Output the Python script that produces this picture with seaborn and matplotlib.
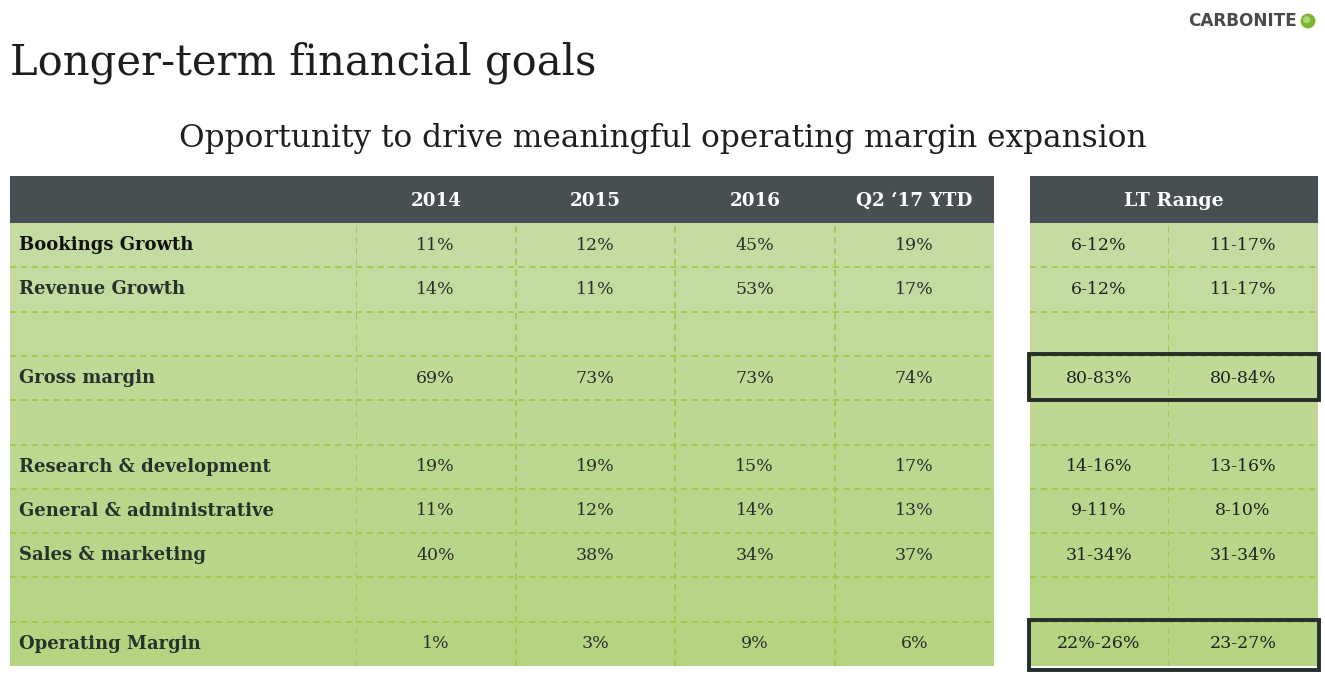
import numpy as np
import pandas as pd
import matplotlib
matplotlib.use("Agg")
import matplotlib.pyplot as plt
import seaborn as sns
from matplotlib.colors import LinearSegmentedColormap
from matplotlib.patches import Rectangle, Circle

# ---------------- data ----------------
row_labels = ["Bookings Growth", "Revenue Growth", "", "Gross margin", "",
              "Research & development", "General & administrative",
              "Sales & marketing", "", "Operating Margin"]
periods = ["2014", "2015", "2016", "Q2 \u201817 YTD"]
v2014 = ["11%", "14%", "", "69%", "", "19%", "11%", "40%", "", "1%"]
v2015 = ["12%", "11%", "", "73%", "", "19%", "12%", "38%", "", "3%"]
v2016 = ["45%", "53%", "", "73%", "", "15%", "14%", "34%", "", "9%"]
vq217 = ["19%", "17%", "", "74%", "", "17%", "13%", "37%", "", "6%"]
lt_header = "LT Range"
lt_low = ["6-12%", "6-12%", "", "80-83%", "", "14-16%", "9-11%", "31-34%", "", "22%-26%"]
lt_high = ["11-17%", "11-17%", "", "80-84%", "", "13-16%", "8-10%", "31-34%", "", "23-27%"]
boxed_rows = ["Gross margin", "Operating Margin"]

title = "Longer-term financial goals"
subtitle = "Opportunity to drive meaningful operating margin expansion"
logo = "CARBONITE"

# ---------------- style ----------------
sns.set_theme(style="white")
plt.rcParams["font.family"] = ["DejaVu Serif"]

W, H = 1325, 678
fig = plt.figure(figsize=(W / 100, H / 100), dpi=100)
fig.patch.set_facecolor("white")

def fax(x0, y0, x1, y1):
    """axes from pixel box (top-left origin)"""
    return fig.add_axes([x0 / W, 1 - y1 / H, (x1 - x0) / W, (y1 - y0) / H])

cmap = LinearSegmentedColormap.from_list("g", ["#c4dca1", "#b4d482"])
n = len(row_labels)
shade = np.arange(n)[:, None].astype(float)

HEAD = "#474f52"
GRID = "#a2c84c"
TXT = "#2a2f2c"
DASH = (0, (3.5, 2.5))

top_head, bot_head, bot = 176, 223, 666

def grid(ax, ncols, right=False):
    for i in range(1, n):
        ax.axhline(i, color=GRID, lw=1.3, ls=DASH)
    for j in range(1, ncols + (1 if right else 0)):
        ax.axvline(j, color=GRID, lw=1.3, ls=DASH)

# label column
axl = fax(10, bot_head, 356, bot)
sns.heatmap(pd.DataFrame(shade), ax=axl, cmap=cmap, vmin=0, vmax=n - 1,
            cbar=False, xticklabels=False, yticklabels=False)
for i, lab in enumerate(row_labels):
    axl.text(0.026, i + 0.5, lab, ha="left", va="center", fontsize=13,
             fontweight="bold", color="#111111" if i == 0 else "#26332b")
grid(axl, 1)

# data columns
data = pd.DataFrame({p: v for p, v in zip(periods, [v2014, v2015, v2016, vq217])})
axd = fax(356, bot_head, 994, bot)
sns.heatmap(np.repeat(shade, 4, axis=1), ax=axd, cmap=cmap, vmin=0, vmax=n - 1,
            cbar=False, annot=data.values, fmt="",
            annot_kws={"fontsize": 12.5, "color": TXT},
            xticklabels=False, yticklabels=False)
grid(axd, 4)
axd.axvline(0, color=GRID, lw=1.3, ls=DASH)

# LT range (two unequal columns)
lt_axes = []
for (x0, x1), vals in zip([(1030, 1168), (1168, 1318)], [lt_low, lt_high]):
    a = fax(x0, bot_head, x1, bot)
    sns.heatmap(shade, ax=a, cmap=cmap, vmin=0, vmax=n - 1,
                cbar=False, annot=np.array(vals)[:, None], fmt="",
                annot_kws={"fontsize": 12.5, "color": "#1e2320"},
                xticklabels=False, yticklabels=False)
    grid(a, 1)
    lt_axes.append(a)
lt_axes[1].axvline(0, color=GRID, lw=1.3, ls=DASH)

# headers
axh = fax(10, top_head, 994, bot_head)
axh.set_facecolor(HEAD)
axh.set_xlim(10, 994); axh.set_ylim(0, 1)
axh.set_xticks([]); axh.set_yticks([])
for s in axh.spines.values():
    s.set_visible(False)
centers = [436, 595, 755, 914]
for c, p in zip(centers, periods):
    axh.text(c, 0.47, p, ha="center", va="center", color="white",
             fontsize=13.2, fontweight="bold")

axh2 = fax(1030, top_head, 1318, bot_head)
axh2.set_facecolor(HEAD)
axh2.set_xticks([]); axh2.set_yticks([])
for s in axh2.spines.values():
    s.set_visible(False)
axh2.text(0.5, 0.47, lt_header, ha="center", va="center", color="white",
          fontsize=13.6, fontweight="bold", transform=axh2.transAxes)

# boxes around highlighted LT rows (figure pixel coords)
row_h = (bot - bot_head) / n
for lab in boxed_rows:
    i = row_labels.index(lab)
    y_top = bot_head + i * row_h - 1.5
    y_bot = bot_head + (i + 1) * row_h + (4 if i == n - 1 else 0)
    rect = Rectangle((1029 / W, 1 - y_bot / H), (1319 - 1029) / W,
                     (y_bot - y_top) / H, fill=False, lw=2.8,
                     edgecolor="#262d2d", transform=fig.transFigure,
                     zorder=10)
    fig.patches.append(rect)

# titles
fig.text(10 / W, 1 - 63 / H, title, ha="left", va="center",
         fontsize=30, color="#1e1e1e")
fig.text(663 / W, 1 - 138 / H, subtitle, ha="center", va="center",
         fontsize=22.5, color="#1e1e1e")

# logo
fig.text(1297 / W, 1 - 21 / H, logo, ha="right", va="center",
         fontsize=12.2, fontweight="bold", color="#4a4a4a",
         family=["DejaVu Sans"])
axlogo = fax(1300, 13, 1316, 29)
axlogo.set_xlim(0, 1); axlogo.set_ylim(0, 1); axlogo.axis("off")
axlogo.add_patch(Circle((0.5, 0.5), 0.42, color="#7ab633"))
axlogo.add_patch(Circle((0.42, 0.58), 0.18, color="#a9d66a"))

fig.savefig("out.png", dpi=100, facecolor="white")
